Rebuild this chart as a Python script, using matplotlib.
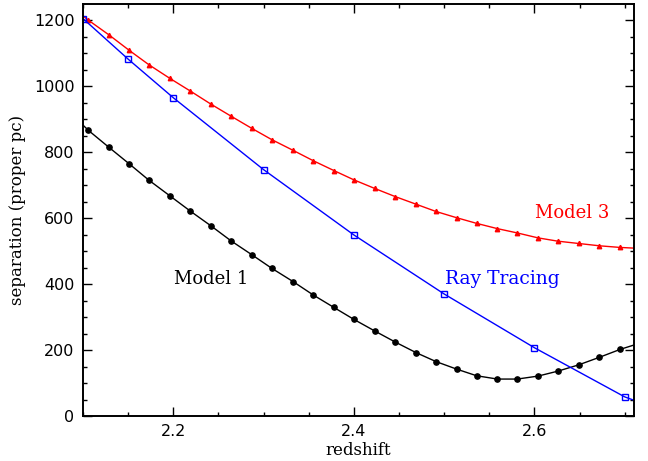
import numpy as np
import matplotlib.pyplot as plt
from matplotlib.ticker import MultipleLocator

#############################################################################
# Values

# Model 1 (black dots)
z_model1 = [2.106, 2.129, 2.151, 2.173, 2.196, 2.219, 2.242, 2.264, 2.287,
            2.309, 2.333, 2.355, 2.378, 2.400, 2.423, 2.446, 2.469, 2.491,
            2.514, 2.536, 2.559, 2.581, 2.604, 2.626, 2.649, 2.672, 2.695]
sep_model1 = [866, 814, 765, 715, 668, 621, 576, 531, 489, 448, 407, 367,
              329, 293, 258, 224, 192, 165, 142, 122, 112, 112, 121, 136,
              155, 178, 202]
# line ends at the axes edges
z_model1_ends = [2.100, 2.710]
sep_model1_ends = [882, 215]

# Model 3 (red triangles)
z_model3 = [2.106, 2.129, 2.151, 2.173, 2.196, 2.219, 2.242, 2.264, 2.287,
            2.309, 2.333, 2.355, 2.378, 2.400, 2.423, 2.446, 2.469, 2.491,
            2.514, 2.536, 2.559, 2.581, 2.604, 2.626, 2.649, 2.672, 2.695]
sep_model3 = [1200, 1155, 1109, 1065, 1024, 985, 945, 909, 872, 838, 805,
              774, 744, 716, 690, 665, 642, 620, 601, 584, 568, 555, 540,
              530, 523, 516, 511]
z_model3_ends = [2.100, 2.710]
sep_model3_ends = [1213, 509]

# Ray tracing (blue open squares)
z_ray = [2.10, 2.15, 2.20, 2.30, 2.40, 2.50, 2.60, 2.70]
sep_ray = [1205, 1082, 965, 747, 549, 370, 207, 58]
z_ray_ends = [2.710]
sep_ray_ends = [48]

#############################################################################
fig = plt.figure(figsize=(6.48, 4.61), dpi=100)
ax = fig.add_axes([0.128, 0.0976, 0.850, 0.893])

serif = "DejaVu Serif"

# Model 1
ax.plot([z_model1_ends[0]] + z_model1 + [z_model1_ends[1]],
        [sep_model1_ends[0]] + sep_model1 + [sep_model1_ends[1]],
        color="black", linewidth=1.0)
ax.plot(z_model1, sep_model1, linestyle="none", marker="o",
        markersize=3.8, color="black")

# Model 3
ax.plot([z_model3_ends[0]] + z_model3 + [z_model3_ends[1]],
        [sep_model3_ends[0]] + sep_model3 + [sep_model3_ends[1]],
        color="red", linewidth=1.0)
ax.plot(z_model3, sep_model3, linestyle="none", marker="^",
        markersize=3.2, color="red")

# Ray tracing
ax.plot(z_ray + z_ray_ends, sep_ray + sep_ray_ends,
        color="blue", linewidth=1.0)
ax.plot(z_ray, sep_ray, linestyle="none", marker="s", markersize=4.5,
        markerfacecolor="none", markeredgecolor="blue", markeredgewidth=1.0)

ax.text(2.2415, 414, "Model 1", color="black", fontsize=13, family=serif,
        ha="center", va="center")
ax.text(2.5645, 415, "Ray Tracing", color="blue", fontsize=13.5,
        family=serif, ha="center", va="center")
ax.text(2.642, 616, "Model 3", color="red", fontsize=13, family=serif,
        ha="center", va="center")

ax.set_xlim(2.1, 2.71)
ax.set_ylim(0, 1248)

ax.xaxis.set_major_locator(MultipleLocator(0.2))
ax.xaxis.set_minor_locator(MultipleLocator(0.05))
ax.yaxis.set_major_locator(MultipleLocator(200))
ax.yaxis.set_minor_locator(MultipleLocator(50))
ax.tick_params(which="both", direction="in", top=True, right=True,
               width=1.0, labelsize=11.5)
ax.tick_params(which="major", length=6.5, pad=6)
ax.tick_params(which="minor", length=3.2)
for spine in ax.spines.values():
    spine.set_linewidth(1.4)

ax.set_xlabel("redshift", family=serif, fontsize=12, labelpad=2)
ax.set_ylabel("separation (proper pc)", family=serif, fontsize=12,
              labelpad=6)

fig.savefig("out.png", dpi=100)
